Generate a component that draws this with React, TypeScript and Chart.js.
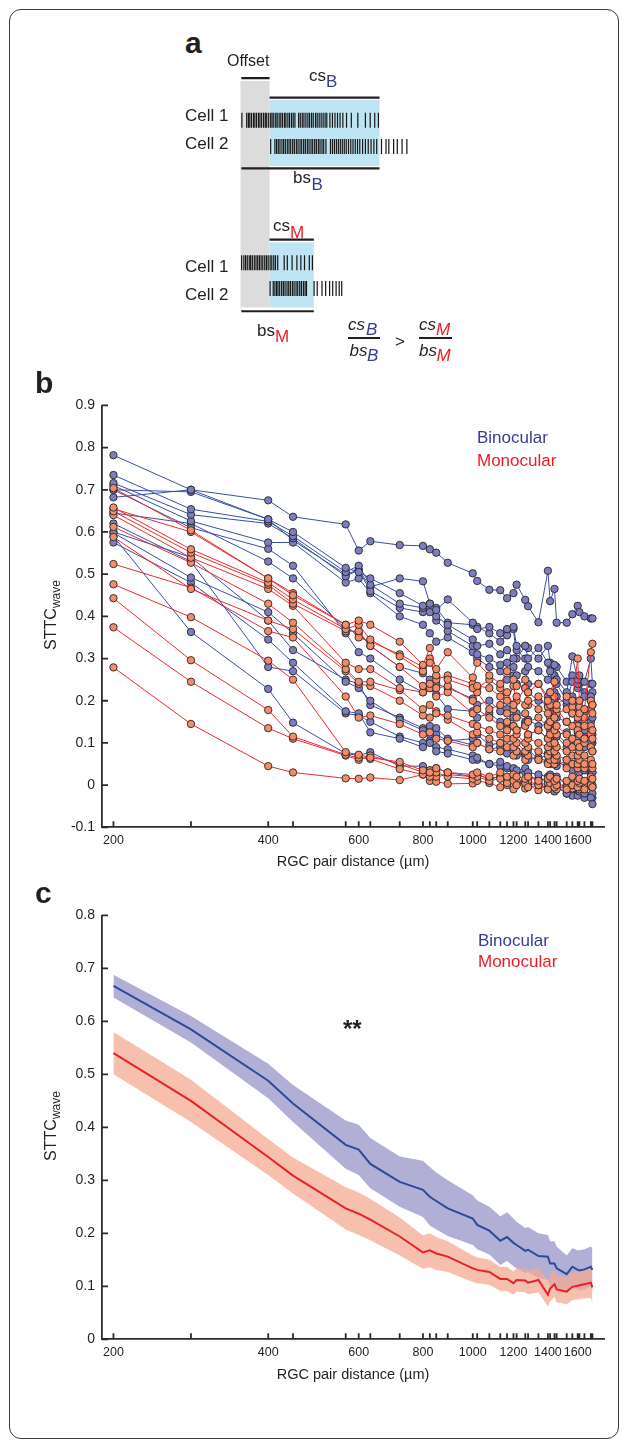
import React, { useEffect, useRef } from 'react';
import { Chart, registerables } from 'chart.js';

Chart.register(...registerables);

const FONT = '"Liberation Sans", Arial, Helvetica, sans-serif';
const TXT = '#231f20';
const AXIS = '#2b2b2b';
const BLUE_TXT = '#393b98';
const RED_TXT = '#ed1c24';

// ---------- shared x axis (RGC pair distance, µm) ----------
const DIST = [200, 283, 400, 447, 566, 600, 632, 721, 800, 825, 849, 894, 1000, 1020, 1077, 1131, 1166, 1200, 1217, 1265, 1281, 1342, 1400, 1414, 1442, 1456, 1523, 1562, 1600, 1612, 1649, 1697, 1709];
const X_LABELS = [200, 400, 600, 800, 1000, 1200, 1400, 1600];
const X_MIN = 190;
const X_MAX = 1800;

// ---------- panel b : binocular recordings ----------
const BINO_1 = [0.782, 0.70, 0.63, 0.60, 0.515, 0.505, 0.49, 0.455, 0.425, 0.43, 0.415, 0.44, 0.385, 0.37, 0.375, 0.36, 0.37, 0.375, 0.33, 0.33, 0.30, 0.325, 0.29, 0.27, 0.285, 0.25, 0.22, 0.305, 0.25, 0.26, 0.245, 0.30, 0.24];
const BINO_2 = [0.735, 0.654, 0.625, 0.59, 0.505, 0.52, 0.475, 0.43, 0.42, 0.41, 0.40, 0.38, 0.345, 0.33, 0.335, 0.31, 0.32, 0.30, 0.32, 0.30, 0.28, 0.27, 0.25, 0.285, 0.22, 0.24, 0.20, 0.245, 0.24, 0.25, 0.21, 0.21, 0.19];
const BINO_3 = [0.716, 0.641, 0.62, 0.585, 0.495, 0.51, 0.46, 0.42, 0.41, 0.42, 0.39, 0.365, 0.33, 0.31, 0.30, 0.285, 0.29, 0.28, 0.26, 0.27, 0.24, 0.24, 0.21, 0.22, 0.20, 0.21, 0.19, 0.21, 0.18, 0.20, 0.17, 0.20, 0.16];
const BINO_4 = [0.71, 0.626, 0.575, 0.575, 0.48, 0.49, 0.455, 0.40, 0.38, 0.36, 0.34, 0.35, 0.315, 0.30, 0.28, 0.27, 0.25, 0.26, 0.24, 0.23, 0.22, 0.20, 0.19, 0.17, 0.19, 0.16, 0.15, 0.17, 0.15, 0.14, 0.13, 0.15, 0.12];
const BINO_5 = [0.70, 0.61, 0.56, 0.52, 0.36, 0.315, 0.30, 0.25, 0.22, 0.23, 0.215, 0.18, 0.175, 0.16, 0.17, 0.15, 0.145, 0.14, 0.13, 0.145, 0.12, 0.13, 0.11, 0.12, 0.10, 0.115, 0.09, 0.105, 0.10, 0.085, 0.09, 0.10, 0.08];
const BINO_6 = [0.645, 0.62, 0.53, 0.49, 0.37, 0.36, 0.33, 0.28, 0.265, 0.25, 0.24, 0.23, 0.205, 0.19, 0.20, 0.175, 0.18, 0.16, 0.17, 0.15, 0.155, 0.14, 0.145, 0.13, 0.14, 0.12, 0.125, 0.11, 0.125, 0.10, 0.115, 0.12, 0.10];
const BINO_7 = [0.598, 0.492, 0.41, 0.36, 0.245, 0.23, 0.20, 0.155, 0.13, 0.12, 0.135, 0.11, 0.095, 0.10, 0.085, 0.09, 0.075, 0.08, 0.07, 0.075, 0.06, 0.065, 0.055, 0.06, 0.05, 0.055, 0.045, 0.05, 0.04, 0.045, 0.035, 0.04, 0.03];
const BINO_8 = [0.59, 0.363, 0.228, 0.148, 0.075, 0.07, 0.078, 0.045, 0.045, 0.035, 0.04, 0.03, 0.02, 0.025, 0.015, 0.02, 0.01, 0.015, 0.005, 0.01, 0.0, 0.005, -0.01, 0.0, -0.015, -0.005, -0.02, -0.01, -0.025, -0.015, -0.02, -0.03, -0.045];
const BINO_9 = [0.575, 0.48, 0.345, 0.29, 0.175, 0.17, 0.125, 0.11, 0.09, 0.10, 0.08, 0.075, 0.06, 0.065, 0.05, 0.055, 0.045, 0.04, 0.035, 0.04, 0.03, 0.025, 0.02, 0.025, 0.01, 0.02, 0.0, 0.01, -0.005, 0.005, -0.01, 0.0, -0.02];
const BINO_10 = [0.70, 0.695, 0.63, 0.58, 0.50, 0.51, 0.47, 0.49, 0.483, 0.43, 0.42, 0.385, 0.38, 0.375, 0.36, 0.34, 0.355, 0.37, 0.30, 0.33, 0.325, 0.30, 0.33, 0.29, 0.26, 0.28, 0.245, 0.26, 0.23, 0.24, 0.22, 0.24, 0.22];
const BINO_11 = [0.60, 0.54, 0.39, 0.32, 0.25, 0.24, 0.19, 0.16, 0.135, 0.14, 0.12, 0.105, 0.11, 0.12, 0.095, 0.10, 0.085, 0.09, 0.08, 0.07, 0.085, 0.06, 0.075, 0.05, 0.065, 0.045, 0.06, 0.035, 0.05, 0.03, 0.04, 0.025, 0.03];
const BINO_12 = [0.62, 0.53, 0.28, 0.27, 0.17, 0.165, 0.15, 0.115, 0.10, 0.105, 0.09, 0.085, 0.07, 0.06, 0.05, 0.045, 0.04, 0.035, 0.03, 0.03, 0.02, 0.015, 0.01, 0.0, -0.01, 0.0, -0.02, -0.025, -0.01, -0.02, -0.03, -0.025, -0.03];
const BINO_TOP = [0.682, 0.70, 0.675, 0.636, 0.618, 0.556, 0.578, 0.569, 0.567, 0.559, 0.551, 0.527, 0.502, 0.484, 0.463, 0.462, 0.443, 0.455, 0.475, 0.439, 0.424, 0.386, 0.508, 0.436, 0.465, 0.385, 0.385, 0.405, 0.425, 0.41, 0.40, 0.395, 0.395];
const BINO_SERIES = [BINO_TOP, BINO_1, BINO_2, BINO_3, BINO_4, BINO_5, BINO_6, BINO_7, BINO_8, BINO_9, BINO_10, BINO_11, BINO_12];

// ---------- panel b : monocular recordings ----------
const MONO_1 = [0.704, 0.604, 0.49, 0.45, 0.38, 0.39, 0.38, 0.34, 0.285, 0.325, 0.275, 0.315, 0.255, 0.29, 0.26, 0.24, 0.27, 0.25, 0.235, 0.25, 0.22, 0.24, 0.20, 0.22, 0.245, 0.19, 0.21, 0.20, 0.30, 0.20, 0.18, 0.315, 0.335];
const MONO_2 = [0.658, 0.559, 0.48, 0.44, 0.37, 0.38, 0.345, 0.305, 0.27, 0.29, 0.26, 0.25, 0.23, 0.235, 0.23, 0.21, 0.22, 0.19, 0.21, 0.19, 0.20, 0.18, 0.17, 0.19, 0.16, 0.18, 0.15, 0.17, 0.16, 0.17, 0.14, 0.20, 0.19];
const MONO_3 = [0.649, 0.551, 0.475, 0.43, 0.365, 0.365, 0.33, 0.28, 0.235, 0.24, 0.23, 0.235, 0.20, 0.22, 0.18, 0.19, 0.17, 0.18, 0.16, 0.17, 0.15, 0.16, 0.14, 0.15, 0.13, 0.14, 0.12, 0.14, 0.13, 0.12, 0.11, 0.14, 0.13];
const MONO_4 = [0.64, 0.539, 0.465, 0.425, 0.29, 0.275, 0.275, 0.23, 0.22, 0.23, 0.21, 0.22, 0.17, 0.18, 0.16, 0.14, 0.15, 0.14, 0.13, 0.14, 0.12, 0.13, 0.11, 0.12, 0.10, 0.12, 0.10, 0.11, 0.10, 0.09, 0.10, 0.12, 0.11];
const MONO_5 = [0.612, 0.527, 0.43, 0.385, 0.275, 0.245, 0.245, 0.225, 0.18, 0.19, 0.17, 0.165, 0.145, 0.14, 0.13, 0.12, 0.13, 0.11, 0.12, 0.10, 0.11, 0.10, 0.09, 0.10, 0.08, 0.09, 0.08, 0.09, 0.07, 0.08, 0.07, 0.09, 0.08];
const MONO_6 = [0.588, 0.465, 0.39, 0.37, 0.27, 0.24, 0.235, 0.20, 0.165, 0.16, 0.175, 0.155, 0.12, 0.125, 0.11, 0.10, 0.11, 0.09, 0.10, 0.08, 0.09, 0.08, 0.07, 0.08, 0.06, 0.07, 0.06, 0.07, 0.05, 0.06, 0.05, 0.06, 0.05];
const MONO_7 = [0.524, 0.468, 0.365, 0.35, 0.21, 0.16, 0.165, 0.145, 0.12, 0.125, 0.11, 0.105, 0.09, 0.10, 0.085, 0.08, 0.09, 0.07, 0.08, 0.06, 0.07, 0.06, 0.05, 0.06, 0.05, 0.06, 0.04, 0.05, 0.04, 0.05, 0.04, 0.05, 0.04];
const MONO_8 = [0.476, 0.398, 0.295, 0.25, 0.078, 0.072, 0.065, 0.055, 0.035, 0.03, 0.04, 0.03, 0.025, 0.03, 0.02, 0.03, 0.02, 0.025, 0.02, 0.015, 0.02, 0.01, 0.015, 0.02, 0.01, 0.015, 0.01, 0.02, 0.01, 0.015, 0.01, 0.02, 0.015];
const MONO_9 = [0.443, 0.296, 0.178, 0.115, 0.072, 0.065, 0.062, 0.038, 0.025, 0.02, 0.03, 0.02, 0.015, 0.02, 0.01, 0.015, 0.005, 0.01, 0.0, 0.005, -0.005, 0.0, -0.01, 0.005, -0.005, 0.0, -0.01, 0.0, -0.005, 0.005, -0.01, 0.0, -0.005];
const MONO_10 = [0.374, 0.245, 0.135, 0.11, 0.07, 0.06, 0.07, 0.05, 0.03, 0.035, 0.02, 0.025, 0.02, 0.025, 0.015, 0.02, 0.01, 0.015, 0.01, 0.005, 0.01, 0.0, 0.005, 0.01, 0.0, 0.005, -0.005, 0.0, 0.005, -0.005, 0.0, 0.005, 0.0];
const MONO_11 = [0.279, 0.145, 0.045, 0.03, 0.016, 0.015, 0.018, 0.012, 0.025, 0.01, 0.008, 0.003, 0.004, 0.01, 0.005, -0.005, 0.0, -0.01, 0.005, -0.008, 0.0, -0.012, 0.0, -0.005, 0.003, -0.01, 0.0, -0.008, 0.002, -0.01, 0.004, 0.0, -0.005];
const MONO_12 = [0.655, 0.60, 0.49, 0.455, 0.38, 0.35, 0.34, 0.31, 0.28, 0.30, 0.25, 0.26, 0.24, 0.23, 0.25, 0.23, 0.20, 0.235, 0.20, 0.23, 0.19, 0.21, 0.185, 0.16, 0.21, 0.17, 0.18, 0.185, 0.14, 0.185, 0.16, 0.18, 0.17];
const MONO_SERIES = [MONO_1, MONO_2, MONO_3, MONO_4, MONO_5, MONO_6, MONO_7, MONO_8, MONO_9, MONO_10, MONO_11, MONO_12];

// ---------- panel c : mean ± error ----------
const BINO_MEAN = [0.667, 0.585, 0.488, 0.445, 0.367, 0.358, 0.331, 0.297, 0.282, 0.269, 0.261, 0.247, 0.228, 0.216, 0.205, 0.186, 0.193, 0.182, 0.178, 0.167, 0.169, 0.157, 0.156, 0.143, 0.143, 0.134, 0.123, 0.137, 0.131, 0.13, 0.132, 0.137, 0.131];
const BINO_HI = [0.688, 0.61, 0.52, 0.48, 0.413, 0.405, 0.38, 0.345, 0.337, 0.325, 0.315, 0.30, 0.272, 0.262, 0.25, 0.232, 0.24, 0.228, 0.222, 0.21, 0.212, 0.2, 0.197, 0.185, 0.185, 0.175, 0.158, 0.172, 0.168, 0.168, 0.17, 0.175, 0.172];
const BINO_LO = [0.645, 0.56, 0.455, 0.41, 0.322, 0.31, 0.285, 0.25, 0.231, 0.215, 0.207, 0.195, 0.178, 0.17, 0.16, 0.14, 0.148, 0.138, 0.134, 0.125, 0.127, 0.115, 0.112, 0.10, 0.10, 0.093, 0.088, 0.10, 0.094, 0.092, 0.094, 0.10, 0.09];
const MONO_MEAN = [0.54, 0.45, 0.344, 0.309, 0.247, 0.237, 0.226, 0.194, 0.164, 0.168, 0.162, 0.156, 0.134, 0.131, 0.127, 0.114, 0.114, 0.106, 0.112, 0.111, 0.107, 0.112, 0.084, 0.096, 0.104, 0.094, 0.09, 0.099, 0.101, 0.102, 0.104, 0.107, 0.098];
const MONO_HI = [0.58, 0.49, 0.378, 0.343, 0.287, 0.277, 0.265, 0.23, 0.196, 0.2, 0.193, 0.185, 0.158, 0.155, 0.15, 0.137, 0.137, 0.128, 0.134, 0.133, 0.13, 0.136, 0.11, 0.122, 0.13, 0.12, 0.117, 0.127, 0.129, 0.13, 0.133, 0.137, 0.127];
const MONO_LO = [0.50, 0.41, 0.31, 0.275, 0.207, 0.197, 0.187, 0.158, 0.133, 0.136, 0.131, 0.127, 0.108, 0.106, 0.103, 0.091, 0.091, 0.084, 0.09, 0.089, 0.085, 0.089, 0.062, 0.072, 0.08, 0.07, 0.066, 0.074, 0.075, 0.076, 0.077, 0.078, 0.07];

// ---------- panel a : schematic spike trains (time units) ----------
const OFFSET_WIN = [0, 10];
const B_WIN = [10, 49];
const M_WIN = [10, 25.7];
const CELL1_B = [0.2, 1.9, 2.5, 3.0, 3.6, 4.3, 4.8, 5.4, 6.1, 6.6, 7.2, 7.9, 8.5, 9.0, 9.7, 10.4, 10.9, 11.5, 12.2, 12.7, 13.4, 14.0, 14.6, 15.3, 15.8, 16.5, 17.1, 17.8, 18.4, 19.0, 20.3, 20.9, 21.6, 22.2, 22.9, 23.6, 24.2, 24.9, 25.5, 26.3, 26.9, 27.6, 28.3, 29.0, 29.7, 30.3, 31.4, 32.3, 33.2, 34.1, 35.0, 36.0, 37.3, 39.0, 41.3, 44.0, 45.7, 47.3, 48.6];
const CELL2_B = [10.4, 11.9, 12.5, 13.1, 13.7, 14.4, 15.0, 15.6, 16.3, 16.9, 17.5, 18.2, 18.8, 19.5, 20.1, 20.8, 21.4, 22.1, 22.7, 23.4, 24.0, 24.7, 25.3, 26.0, 26.6, 27.3, 27.9, 28.6, 29.2, 30.0, 31.6, 32.3, 33.0, 33.7, 34.4, 35.1, 35.8, 36.5, 37.2, 38.0, 38.8, 39.6, 40.4, 41.2, 42.0, 43.0, 44.0, 45.0, 46.0, 47.0, 48.0, 49.7, 51.3, 52.3, 54.0, 55.3, 57.0, 58.7];
const CELL1_M = [0.1, 0.9, 1.5, 2.1, 2.8, 3.3, 3.9, 4.6, 5.2, 5.8, 6.4, 7.0, 7.6, 8.3, 8.9, 9.5, 10.2, 10.8, 11.5, 12.1, 12.9, 15.2, 16.3, 18.0, 19.7, 21.1, 22.4, 24.1, 25.2];
const CELL2_M = [10.2, 11.3, 11.9, 12.5, 13.0, 13.6, 14.3, 14.9, 15.5, 16.2, 16.8, 17.4, 18.1, 18.7, 19.4, 20.0, 20.7, 21.3, 22.0, 22.6, 23.1, 25.8, 26.9, 28.6, 29.9, 31.3, 32.4, 33.6, 34.7, 35.6];

// schematic row layout (rows, 10 px each)
const ROW = { offset: 1.0, grayTop: 1.3, grayBot: 25.3, csB: 3.07, rectBTop: 3.3, rectBBot: 10.3, c1B: 5.45, c2B: 8.25, bsB: 10.57, csM: 18.1, rectMTop: 18.4, rectMBot: 25.3, c1M: 20.55, c2M: 23.3, bsM: 25.7 };

const fmtY = (v: number) => (Math.abs(v) < 1e-9 ? '0' : String(Math.round(v * 10) / 10));
const pts = (vals: number[]) => DIST.map((d, i) => ({ x: d, y: vals[i] }));

const innerTicks = {
  id: 'innerTicks',
  afterDraw(chart: any) {
    const { ctx, chartArea: a, scales } = chart;
    const xs = scales.x;
    const ys = scales.y;
    ctx.save();
    ctx.strokeStyle = AXIS;
    ctx.lineWidth = 1.8;
    ctx.beginPath();
    for (const v of DIST) {
      const px = xs.getPixelForValue(v);
      ctx.moveTo(px, a.bottom);
      ctx.lineTo(px, a.bottom - 6);
    }
    for (const t of ys.ticks) {
      const py = ys.getPixelForValue(t.value);
      ctx.moveTo(a.left, py);
      ctx.lineTo(a.left + 6, py);
    }
    ctx.stroke();
    ctx.restore();
  },
};

function distanceAxis(height: number, titlePad: number) {
  return {
    type: 'logarithmic',
    min: X_MIN,
    max: X_MAX,
    afterBuildTicks: (s: any) => {
      s.ticks = DIST.map((v) => ({ value: v }));
    },
    afterFit: (s: any) => {
      s.height = height;
    },
    grid: { display: false, drawTicks: false },
    border: { display: true, color: AXIS, width: 1.8 },
    ticks: {
      autoSkip: false,
      maxRotation: 0,
      minRotation: 0,
      padding: 6,
      color: TXT,
      font: { family: FONT, size: 12.5 },
      callback: (v: any) => (X_LABELS.includes(Number(v)) ? String(v) : ''),
    },
    title: {
      display: true,
      text: 'RGC pair distance (µm)',
      color: TXT,
      font: { family: FONT, size: 14.5 },
      padding: { top: 0, bottom: titlePad },
    },
  };
}

function sttcAxis(min: number, max: number) {
  return {
    type: 'linear',
    min,
    max,
    afterFit: (s: any) => {
      s.width = 82;
    },
    grid: { display: false, drawTicks: false },
    border: { display: true, color: AXIS, width: 1.8 },
    ticks: {
      stepSize: 0.1,
      padding: 7,
      color: TXT,
      font: { family: FONT, size: 14 },
      callback: (v: any) => fmtY(Number(v)),
    },
  };
}

const baseOpts = {
  responsive: false,
  animation: false,
  devicePixelRatio: 1,
  events: [],
};

function makePanelB() {
  const ds = (vals: number[], line: string, fill: string) => ({
    data: pts(vals),
    borderColor: line,
    borderWidth: 1,
    pointRadius: 3.7,
    pointBorderWidth: 0.9,
    pointBorderColor: '#262626',
    pointBackgroundColor: fill,
    fill: false,
    tension: 0,
  });
  return {
    type: 'line',
    data: {
      datasets: [
        ...MONO_SERIES.map((v) => ds(v, '#ee2a2e', '#f28c6a')),
        ...BINO_SERIES.map((v) => ds(v, '#3650a5', '#7d7dbf')),
      ],
    },
    options: {
      ...baseOpts,
      layout: { padding: { top: 13.3, right: 16, left: 0, bottom: 0 } },
      plugins: { legend: { display: false }, tooltip: { enabled: false } },
      scales: { x: distanceAxis(52.7, 9), y: sttcAxis(-0.1, 0.9) },
    },
    plugins: [innerTicks],
  };
}

function makePanelC() {
  const line = (vals: number[], color: string) => ({
    data: pts(vals),
    borderColor: color,
    borderWidth: 2,
    pointRadius: 0,
    fill: false,
    tension: 0,
  });
  const edge = (vals: number[], fill: any, bg: string) => ({
    data: pts(vals),
    borderColor: 'rgba(0,0,0,0)',
    borderWidth: 0,
    pointRadius: 0,
    fill,
    backgroundColor: bg,
    tension: 0,
  });
  return {
    type: 'line',
    data: {
      datasets: [
        line(BINO_MEAN, '#2c4a9c'),
        line(MONO_MEAN, '#e8222a'),
        edge(MONO_HI, '+1', 'rgba(244,170,147,0.75)'),
        edge(MONO_LO, false, 'rgba(0,0,0,0)'),
        edge(BINO_HI, '+1', 'rgba(152,148,200,0.75)'),
        edge(BINO_LO, false, 'rgba(0,0,0,0)'),
      ],
    },
    options: {
      ...baseOpts,
      layout: { padding: { top: 14.3, right: 16, left: 0, bottom: 0 } },
      plugins: { legend: { display: false }, tooltip: { enabled: false }, filler: { propagate: false } },
      scales: { x: distanceAxis(55.7, 11), y: sttcAxis(0, 0.8) },
    },
    plugins: [innerTicks],
  };
}

const rectsPlugin = {
  id: 'schemRects',
  beforeDatasetsDraw(chart: any) {
    const { ctx, scales } = chart;
    const xs = scales.x;
    const ys = scales.y;
    const rects = [
      { x0: OFFSET_WIN[0] - 0.3, x1: OFFSET_WIN[1], y0: ROW.grayTop, y1: ROW.grayBot, c: '#dcdcdc' },
      { x0: B_WIN[0], x1: B_WIN[1], y0: ROW.rectBTop, y1: ROW.rectBBot, c: '#bfe4f4' },
      { x0: M_WIN[0], x1: M_WIN[1], y0: ROW.rectMTop, y1: ROW.rectMBot, c: '#bfe4f4' },
    ];
    ctx.save();
    for (const r of rects) {
      const px0 = xs.getPixelForValue(r.x0);
      const px1 = xs.getPixelForValue(r.x1);
      const py0 = ys.getPixelForValue(r.y0);
      const py1 = ys.getPixelForValue(r.y1);
      ctx.fillStyle = r.c;
      ctx.fillRect(px0, py0, px1 - px0, py1 - py0);
    }
    ctx.restore();
  },
};

function makePanelA() {
  const spikes = (times: number[], row: number) => ({
    data: times.map((t) => ({ x: t, y: row })),
    showLine: false,
    pointStyle: 'line',
    rotation: 90,
    pointRadius: 7.5,
    pointBorderWidth: 1.2,
    pointBorderColor: '#161616',
    pointBackgroundColor: '#161616',
  });
  const bar = (win: number[], row: number) => ({
    data: [
      { x: win[0], y: row },
      { x: win[1], y: row },
    ],
    borderColor: TXT,
    borderWidth: 2.2,
    pointRadius: 0,
    fill: false,
  });
  return {
    type: 'line',
    data: {
      datasets: [
        spikes(CELL1_B, ROW.c1B),
        spikes(CELL2_B, ROW.c2B),
        spikes(CELL1_M, ROW.c1M),
        spikes(CELL2_M, ROW.c2M),
        bar(OFFSET_WIN, ROW.offset),
        bar(B_WIN, ROW.csB),
        bar([OFFSET_WIN[0], B_WIN[1]], ROW.bsB),
        bar(M_WIN, ROW.csM),
        bar([OFFSET_WIN[0], M_WIN[1]], ROW.bsM),
      ],
    },
    options: {
      ...baseOpts,
      layout: { padding: 0 },
      plugins: { legend: { display: false }, tooltip: { enabled: false } },
      scales: {
        x: { type: 'linear', min: -56 / 3, max: -56 / 3 + 290 / 3, display: false },
        y: { type: 'linear', min: 0, max: 31, reverse: true, display: false },
      },
    },
    plugins: [rectsPlugin],
  };
}

function ChartCanvas({ left, top, width, height, make }: any) {
  const ref = useRef<HTMLCanvasElement>(null);
  useEffect(() => {
    const chart = new Chart(ref.current as HTMLCanvasElement, make());
    return () => chart.destroy();
  }, []);
  return (
    <canvas
      ref={ref}
      width={width}
      height={height}
      style={{ position: 'absolute', left, top, width, height }}
    />
  );
}

function T({ x, y, size, children, color = TXT, bold = false, italic = false }: any) {
  return (
    <div
      style={{
        position: 'absolute',
        left: x,
        top: y - 0.8465 * size,
        fontSize: size,
        lineHeight: `${size}px`,
        fontFamily: FONT,
        fontWeight: bold ? 700 : 400,
        fontStyle: italic ? 'italic' : 'normal',
        color,
        whiteSpace: 'nowrap',
      }}
    >
      {children}
    </div>
  );
}

function YTitle({ cx, cy }: any) {
  return (
    <div
      style={{
        position: 'absolute',
        left: cx,
        top: cy,
        transform: 'translate(-50%, -50%) rotate(-90deg)',
        whiteSpace: 'nowrap',
        fontFamily: FONT,
        color: TXT,
        lineHeight: 1,
      }}
    >
      <span style={{ fontSize: 16 }}>STTC</span>
      <span style={{ fontSize: 12, position: 'relative', top: 4 }}>wave</span>
    </div>
  );
}

function Rule({ x, y, w }: any) {
  return <div style={{ position: 'absolute', left: x, top: y, width: w, height: 2, background: TXT }} />;
}

export default function App() {
  return (
    <div style={{ position: 'absolute', left: 0, top: 0, width: 627, height: 1447, background: '#fff' }}>
      <div
        style={{
          position: 'absolute',
          left: 8.5,
          top: 8.5,
          width: 610,
          height: 1430,
          border: '1.4px solid #3a3a3a',
          borderRadius: 12,
          boxSizing: 'border-box',
        }}
      />

      {/* panel a */}
      <ChartCanvas left={180} top={60} width={290} height={310} make={makePanelA} />
      <T x={185} y={53} size={30} bold>a</T>
      <T x={227} y={66.7} size={16}>Offset</T>
      <T x={309} y={81.7} size={17}>cs</T>
      <T x={326} y={87.7} size={17} color={BLUE_TXT}>B</T>
      <T x={185} y={121} size={17}>Cell 1</T>
      <T x={185} y={149.3} size={17}>Cell 2</T>
      <T x={293} y={183.5} size={17}>bs</T>
      <T x={311.5} y={190} size={17} color={BLUE_TXT}>B</T>
      <T x={273} y={231.7} size={17}>cs</T>
      <T x={290} y={238.3} size={17} color={RED_TXT}>M</T>
      <T x={185} y={272.7} size={17}>Cell 1</T>
      <T x={185} y={300.7} size={17}>Cell 2</T>
      <T x={257} y={336} size={17}>bs</T>
      <T x={275} y={342.7} size={17} color={RED_TXT}>M</T>

      <T x={348} y={330} size={17} italic>cs</T>
      <T x={366} y={335} size={17} italic color={BLUE_TXT}>B</T>
      <Rule x={348} y={337.3} w={32} />
      <T x={349.5} y={356} size={17} italic>bs</T>
      <T x={367} y={361.7} size={17} italic color={BLUE_TXT}>B</T>
      <T x={395} y={347} size={17}>&gt;</T>
      <T x={419} y={330} size={17} italic>cs</T>
      <T x={436} y={335} size={17} italic color={RED_TXT}>M</T>
      <Rule x={419} y={337.3} w={33} />
      <T x={419} y={356} size={17} italic>bs</T>
      <T x={436.5} y={361.7} size={17} italic color={RED_TXT}>M</T>

      {/* panel b */}
      <ChartCanvas left={20} top={390} width={600} height={490} make={makePanelB} />
      <T x={35} y={393.3} size={30} bold>b</T>
      <T x={477} y={443.3} size={17} color={BLUE_TXT}>Binocular</T>
      <T x={477} y={466} size={17} color={RED_TXT}>Monocular</T>
      <YTitle cx={51} cy={615} />

      {/* panel c */}
      <ChartCanvas left={20} top={900} width={600} height={495} make={makePanelC} />
      <T x={35} y={903.3} size={30} bold>c</T>
      <T x={478} y={946} size={17} color={BLUE_TXT}>Binocular</T>
      <T x={478} y={967.7} size={17} color={RED_TXT}>Monocular</T>
      <T x={343} y={1037} size={24} bold>**</T>
      <YTitle cx={51} cy={1126} />
    </div>
  );
}
